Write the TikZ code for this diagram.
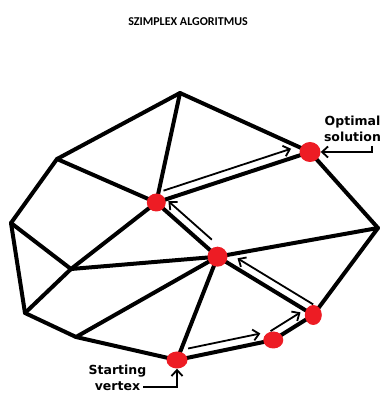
\documentclass[tikz,border=0pt]{standalone}
\usepackage{fontspec}
\newfontfamily\lblfont{DejaVu Sans}
\newfontfamily\titlefont{Carlito}
\usetikzlibrary{arrows.meta,calc,shapes.geometric}
\definecolor{dotred}{HTML}{ED1C24}
\pgfdeclarelayer{bg}
\pgfsetlayers{bg,main}
\begin{document}
\begin{tikzpicture}[x=1pt,y=1pt,
  edge/.style={line width=4pt, line join=round, line cap=round},
  dot/.style={ellipse, fill=dotred, inner sep=0pt},
  pathar/.style={line width=1.8pt, -{Straight Barb[length=6pt,width=11pt]}},
  lblarrow/.style={line width=1.8pt, -{Straight Barb[length=6pt,width=11pt]}},
  lbl/.style={font=\lblfont\bfseries\fontsize{12.5}{16}\selectfont, align=center, inner sep=0pt},
  ttl/.style={font=\titlefont\bfseries\fontsize{12}{14}\selectfont, inner sep=0pt}]
\useasboundingbox (0,0) rectangle (383,394);
% polygon vertices
\coordinate (T)  at (180,301);
\coordinate (UL) at (57,235);
\coordinate (L)  at (11,171);
\coordinate (ML) at (71,125);
\coordinate (BL) at (25,81);
\coordinate (B)  at (76,57);
\coordinate (R)  at (378,166);
% red vertices
\node[dot, minimum width=21pt, minimum height=17pt] (S)  at (177,34) {};
\node[dot, minimum width=20pt, minimum height=17pt] (P2) at (273.3,54) {};
\node[dot, minimum width=17pt, minimum height=20pt] (P3) at (313.3,79) {};
\node[dot, minimum width=20pt, minimum height=20pt] (C)  at (217.5,137.3) {};
\node[dot, minimum width=19pt, minimum height=18pt] (A)  at (156.3,191.5) {};
\node[dot, minimum width=21pt, minimum height=20pt] (OS) at (310,242) {};
\begin{pgfonlayer}{bg}
\draw[edge] (T) -- (UL) -- (L) -- (BL) -- (B) -- (S.center) -- (P2.center)
  -- (P3.center) -- (R) -- (OS.center) -- cycle;
\draw[edge] (T) -- (A.center);
\draw[edge] (UL) -- (A.center);
\draw[edge] (A.center) -- (OS.center);
\draw[edge] (A.center) -- (C.center);
\draw[edge] (A.center) -- (ML);
\draw[edge] (L) -- (ML);
\draw[edge] (ML) -- (BL);
\draw[edge] (ML) -- (C.center);
\draw[edge] (B) -- (C.center);
\draw[edge] (S.center) -- (C.center);
\draw[edge] (C.center) -- (P3.center);
\draw[edge] (C.center) -- (R);
\end{pgfonlayer}
% path arrows
\draw[pathar] ($(S)!0.135!(P2)!9pt!90:(P2)$) -- ($(S)!0.885!(P2)!9pt!90:(P2)$);
\draw[pathar] ($(P2)!0.05!(P3)!9pt!90:(P3)$) -- ($(P2)!0.8!(P3)!9pt!90:(P3)$);
\draw[pathar] ($(P3)!0.05!(C)!9pt!-90:(C)$) -- ($(P3)!0.84!(C)!9pt!-90:(C)$);
\draw[pathar] ($(C)!0.19!(A)!9pt!-90:(A)$) -- ($(C)!0.9!(A)!9pt!-90:(A)$);
\draw[pathar] ($(A)!0.065!(OS)!9pt!90:(OS)$) -- ($(A)!0.895!(OS)!9pt!90:(OS)$);
% labels
\node[ttl] (title) at (188,372) {SZIMPLEX ALGORITMUS};
\node[lbl] (opt) at (352.5,265.5) {Optimal\\solution};
\node[lbl] (start) at (117.5,16) {Starting\\vertex};
\coordinate (optc) at (372,248);
\coordinate (stc) at (143,7);
\draw[lblarrow] (optc) |- (OS);
\draw[lblarrow] (stc) -| (S);
\end{tikzpicture}
\end{document}
